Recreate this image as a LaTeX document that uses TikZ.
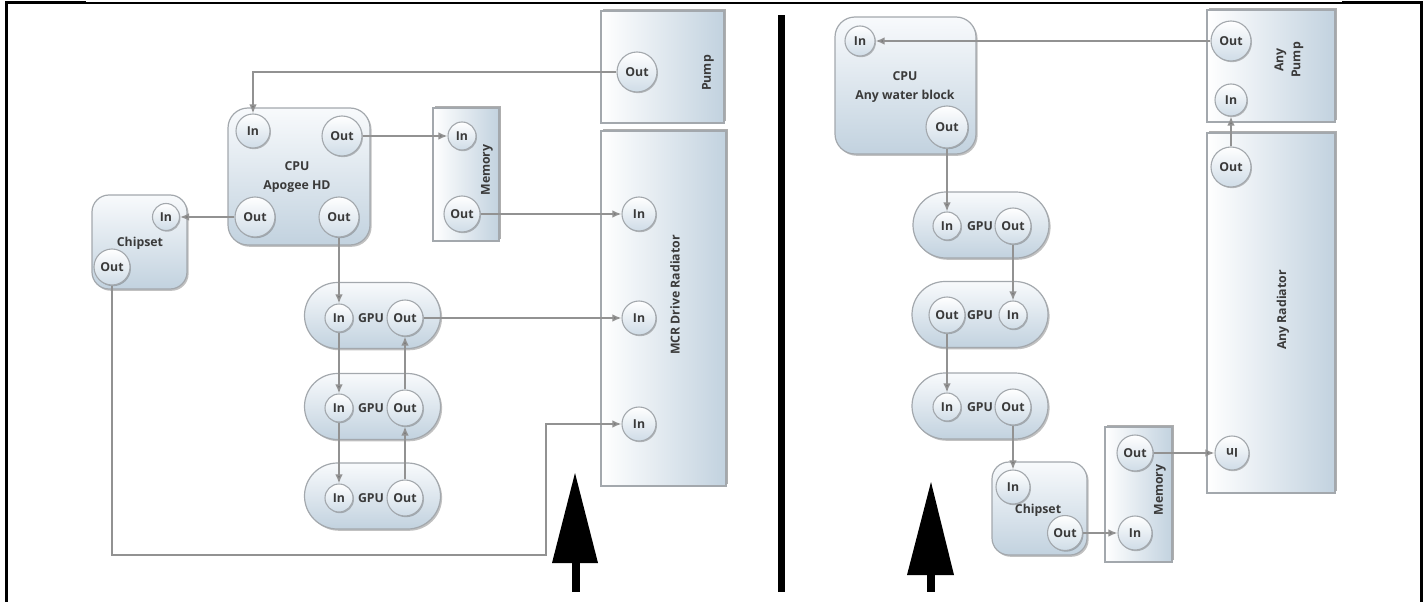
\documentclass[tikz,border=0pt]{standalone}
\usepackage{fontspec}
\setmainfont{Open Sans}
\usetikzlibrary{arrows.meta,shadows,calc}

\definecolor{boxlight}{HTML}{F8FAFC}
\definecolor{boxdark}{HTML}{C2D2DF}
\definecolor{portdark}{HTML}{CFDCE7}
\definecolor{edge}{HTML}{A3A8AD}
\definecolor{pipe}{HTML}{929292}
\definecolor{tipgray}{HTML}{7A7A7A}
\definecolor{ink}{HTML}{3A3A3A}

\tikzset{
  txt/.style={font=\bfseries\fontsize{12.3}{19}\selectfont, text=ink},
  softshadow/.style={drop shadow={shadow xshift=1.6pt, shadow yshift=-1.8pt, opacity=0.35, fill=black!70}},
  block/.style={txt, draw=edge, line width=1.2pt, rounded corners=20pt,
    top color=boxlight, bottom color=boxdark, inner sep=0pt, softshadow},
  pill/.style={txt, draw=edge, line width=1.2pt, rounded corners=33pt,
    top color=boxlight, bottom color=boxdark, inner sep=0pt, softshadow,
    minimum width=136pt, minimum height=66pt},
  panel/.style={txt, draw=edge, line width=1.2pt, left color=white, right color=boxdark,
    inner sep=0pt, drop shadow={shadow xshift=1.8pt, shadow yshift=1.8pt, opacity=0.45, fill=black!70}},
  port/.style={txt, circle, draw=edge, line width=1.1pt, top color=white, bottom color=portdark,
    inner sep=0pt, minimum size=#1,
    drop shadow={shadow xshift=1pt, shadow yshift=-1.2pt, opacity=0.35, fill=black!70}},
  port/.default=34pt,
  lbl/.style={txt, inner sep=0pt, align=center},
  flow/.style={draw=pipe, line width=1.5pt, -{Latex[length=9pt,width=7.5pt,fill=tipgray]}},
  frameline/.style={line width=#1, draw=black},
}

\begin{document}
\begin{tikzpicture}[x=1pt, y=-1pt]
\useasboundingbox (0,0) rectangle (1427,602);

% outer frame
\draw[frameline=3pt] (6,602) -- (6,3) -- (86,3);
\draw[frameline=1.2pt] (86,3) -- (1342,3);
\draw[frameline=3pt] (1342,3) -- (1421,3) -- (1421,602);

% divider between the two loops
\fill[black] (778,15) rectangle (785,592);

% ---------------- left loop ----------------
\node[panel, minimum width=123pt, minimum height=112pt] (pumpL) at (662.5,67) {};
\node[lbl, rotate=90] (pumpLlbl) at (708,73) {Pump};
\node[port=40pt] (pLout) at (637,72) {Out};

\node[panel, minimum width=125pt, minimum height=355pt] (radL) at (663.5,308.5) {};
\node[lbl, rotate=90] (radLlbl) at (675,295) {MCR Drive Radiator};
\node[port] (rLin1) at (639,214) {In};
\node[port] (rLin2) at (639,318) {In};
\node[port] (rLin3) at (639,424) {In};

\node[panel, minimum width=66pt, minimum height=133pt] (memL) at (466,174.5) {};
\node[lbl, rotate=90] (memLlbl) at (487,170) {Memory};
\node[port=28pt] (mLin) at (462,136) {In};
\node[port=36pt] (mLout) at (462,214) {Out};

\node[block, minimum width=142pt, minimum height=137pt] (cpuL) at (299,176.5) {};
\node[lbl] (cpuLlbl) at (297,177) {CPU\\Apogee HD};
\node[port=34pt] (cLin) at (253,131) {In};
\node[port=40pt] (cLoutTR) at (342,136) {Out};
\node[port=40pt] (cLoutBL) at (255,217) {Out};
\node[port=40pt] (cLoutBR) at (339,217) {Out};

\node[block, rounded corners=17pt, minimum width=95pt, minimum height=94pt] (chipL) at (139.5,242) {};
\node[lbl] (chipLlbl) at (140,243) {Chipset};
\node[port=27pt] (chLin) at (166,217) {In};
\node[port=36pt] (chLout) at (112,267) {Out};

\node[pill] (gpuL1) at (372.5,315.5) {};
\node[lbl] (gL1lbl) at (371,318) {GPU};
\node[port=28pt] (g1in) at (339,318) {In};
\node[port=36pt] (g1out) at (405,318) {Out};

\node[pill] (gpuL2) at (372.5,406.5) {};
\node[lbl] (gL2lbl) at (371,408) {GPU};
\node[port=28pt] (g2in) at (339,408) {In};
\node[port=36pt] (g2out) at (405,408) {Out};

\node[pill] (gpuL3) at (372.5,496) {};
\node[lbl] (gL3lbl) at (371,498) {GPU};
\node[port=28pt] (g3in) at (339,498) {In};
\node[port=36pt] (g3out) at (405,498) {Out};

\coordinate (jog) at (546,555);

\draw[flow] (pLout.west) -| (cLin.north);
\draw[flow] (cLoutTR.east) -- (mLin.west);
\draw[flow] (cLoutBL.west) -- (chLin.east);
\draw[flow] (cLoutBR.south) -- (g1in.north);
\draw[flow] (mLout.east) -- (rLin1.west);
\draw[flow] (g1out.east) -- (rLin2.west);
\draw[flow] (g1in.south) -- (g2in.north);
\draw[flow] (g2in.south) -- (g3in.north);
\draw[flow] (g3out.north) -- (g2out.south);
\draw[flow] (g2out.north) -- (g1out.south);
\draw[flow] (chLout.south) |- (jog) |- (rLin3.west);

% flow direction marker
\fill[black] (552,563) -- (575,473) -- (598,563) -- cycle;
\fill[black] (572,560) rectangle (580,592);

% ---------------- right loop ----------------
\node[panel, minimum width=128pt, minimum height=112pt] (pumpR) at (1271,66) {};
\node[lbl, rotate=90, font=\bfseries\fontsize{12.3}{17}\selectfont] (pumpRlbl) at (1289,60) {Any\\Pump};
\node[port=40pt] (pRout) at (1231,41) {Out};
\node[port=32pt] (pRin) at (1231,100) {In};

\node[panel, minimum width=128pt, minimum height=360pt] (radR) at (1271,313) {};
\node[lbl, rotate=90] (radRlbl) at (1283,310) {Any Radiator};
\node[port=40pt] (rRout) at (1231,167) {Out};
\node[port=34pt] (rRin) at (1232,453) {\rotatebox{180}{In}};

\node[block, minimum width=141pt, minimum height=137pt] (cpuR) at (905.5,85.5) {};
\node[lbl] (cpuRlbl) at (905,87) {CPU\\Any water block};
\node[port=30pt] (cRin) at (860,41) {In};
\node[port=42pt] (cRout) at (947,127) {Out};

\node[pill] (gpuR1) at (981,225) {};
\node[lbl] (gR1lbl) at (980,226) {GPU};
\node[port=28pt] (gR1in) at (947,226) {In};
\node[port=36pt] (gR1out) at (1013,226) {Out};

\node[pill] (gpuR2) at (980,314.5) {};
\node[lbl] (gR2lbl) at (980,315) {GPU};
\node[port=36pt] (gR2out) at (947,315) {Out};
\node[port=28pt] (gR2in) at (1013,315) {In};

\node[pill] (gpuR3) at (980,406) {};
\node[lbl] (gR3lbl) at (980,407) {GPU};
\node[port=28pt] (gR3in) at (947,407) {In};
\node[port=36pt] (gR3out) at (1013,407) {Out};

\node[block, rounded corners=17pt, minimum width=95pt, minimum height=93pt] (chipR) at (1039.5,508.5) {};
\node[lbl] (chipRlbl) at (1038,510) {Chipset};
\node[port=34pt] (chRin) at (1013,487) {In};
\node[port=35pt] (chRout) at (1065,533) {Out};

\node[panel, minimum width=67pt, minimum height=135pt] (memR) at (1138.5,494.5) {};
\node[lbl, rotate=90] (memRlbl) at (1160,490) {Memory};
\node[port=36pt] (mRout) at (1135,453) {Out};
\node[port=34pt] (mRin) at (1135,533) {In};

\draw[flow] (pRout.west) -- (cRin.east);
\draw[flow] (cRout.south) -- (gR1in.north);
\draw[flow] (gR1out.south) -- (gR2in.north);
\draw[flow] (gR2out.south) -- (gR3in.north);
\draw[flow] (gR3out.south) -- (chRin.north);
\draw[flow] (chRout.east) -- (mRin.west);
\draw[flow] (mRout.east) -- (rRin.west);
\draw[flow] (rRout.north) -- (pRin.south);

% flow direction marker
\fill[black] (907,575) -- (931,482) -- (954,575) -- cycle;
\fill[black] (927,572) rectangle (935,592);
\end{tikzpicture}
\end{document}
